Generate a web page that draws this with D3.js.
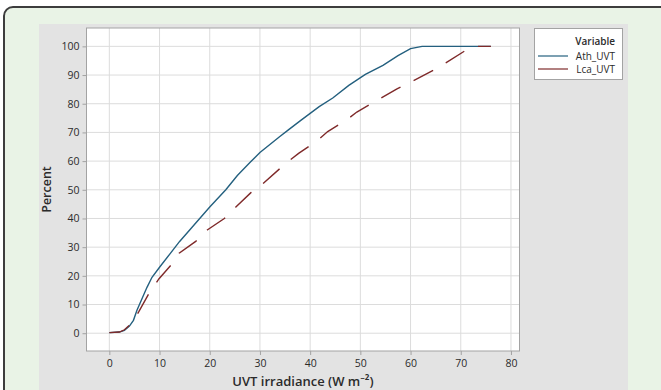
<!DOCTYPE html>
<html>
<head>
<meta charset="utf-8">
<script src="https://cdn.jsdelivr.net/npm/d3@7"></script>
<style>
  html, body { margin: 0; padding: 0; background: #ffffff; }
  svg { display: block; font-family: "Open Sans", "Noto Sans", sans-serif; }
</style>
</head>
<body>
<svg id="chart" width="661" height="390"></svg>
<script>
// Empirical cumulative distributions of UVT irradiance
const athX = [0, 2, 3, 4, 4.8, 5.5, 6.5, 7.5, 8.5, 10, 12, 14, 16, 18, 20, 23.2, 25.5, 28, 30, 33.9, 35.6, 38.2, 41.8, 44.5, 47.7, 51, 54.5, 57.5, 60, 62.3, 76];
const athY = [0.2, 0.4, 1.0, 2.5, 4.5, 8, 12, 16, 19.5, 23, 27.5, 32, 36, 40, 44, 50, 55, 59.5, 63, 68.5, 70.8, 74.3, 79, 82, 86.4, 90.2, 93.4, 96.8, 99.2, 100, 100];

const lcaX = [0, 2, 3, 4, 5, 5.9, 8.1, 9.9, 12.6, 13.9, 17.2, 19.5, 22.9, 25.2, 28.2, 30.5, 35.2, 37.7, 41.2, 43.5, 47.2, 49.3, 57.3, 60.4, 64.4, 67.1, 70.7, 72, 73.2, 76];
const lcaY = [0.2, 0.4, 1.2, 2.8, 5, 7.6, 14.5, 19, 24.4, 27.9, 32, 36, 40, 44, 49, 52, 59.3, 62.7, 66.8, 70.3, 74.3, 77.1, 85.2, 87.9, 91.5, 94.3, 98.3, 99.4, 100, 100];

const seriesNames = ["Ath_UVT", "Lca_UVT"];
const seriesColors = ["#24607f", "#7f2a2a"];
const xTicks = [0, 10, 20, 30, 40, 50, 60, 70, 80];
const yTicks = [0, 10, 20, 30, 40, 50, 60, 70, 80, 90, 100];

const svg = d3.select("#chart");

// outer card
svg.append("rect")
  .attr("x", 4).attr("y", 7).attr("width", 700).attr("height", 430)
  .attr("rx", 9).attr("ry", 9)
  .attr("fill", "#e9f3e6").attr("stroke", "#3d3d3d").attr("stroke-width", 2);

// graph panel
svg.append("rect")
  .attr("x", 39).attr("y", 24).attr("width", 589).attr("height", 380)
  .attr("fill", "#e3e3e3");

const plot = { left: 86.5, right: 519.5, top: 28, bottom: 351 };

const x = d3.scaleLinear().domain([-4.55, 81.7]).range([plot.left, plot.right]);
const y = d3.scaleLinear().domain([-6.2, 106.4]).range([plot.bottom, plot.top]);

svg.append("rect")
  .attr("x", plot.left).attr("y", plot.top)
  .attr("width", plot.right - plot.left).attr("height", plot.bottom - plot.top)
  .attr("fill", "#ffffff");

// gridlines
svg.append("g").selectAll("line").data(xTicks).join("line")
  .attr("x1", d => x(d)).attr("x2", d => x(d))
  .attr("y1", plot.top).attr("y2", plot.bottom)
  .attr("stroke", "#dcdcdc").attr("stroke-width", 1);
svg.append("g").selectAll("line").data(yTicks).join("line")
  .attr("x1", plot.left).attr("x2", plot.right)
  .attr("y1", d => y(d)).attr("y2", d => y(d))
  .attr("stroke", "#dcdcdc").attr("stroke-width", 1);

// plot frame
svg.append("rect")
  .attr("x", plot.left).attr("y", plot.top)
  .attr("width", plot.right - plot.left).attr("height", plot.bottom - plot.top)
  .attr("fill", "none").attr("stroke", "#a3a3a3").attr("stroke-width", 1);

// axes
const xAxis = d3.axisBottom(x).tickValues(xTicks).tickSize(4).tickPadding(5);
const yAxis = d3.axisLeft(y).tickValues(yTicks).tickSize(4).tickPadding(3);

const gx = svg.append("g").attr("transform", `translate(0,${plot.bottom})`).call(xAxis);
const gy = svg.append("g").attr("transform", `translate(${plot.left},0)`).call(yAxis);
[gx, gy].forEach(g => {
  g.select(".domain").remove();
  g.selectAll(".tick line").attr("stroke", "#a3a3a3");
  g.selectAll(".tick text").attr("fill", "#2b2b2b")
    .style("font-size", "10.5px")
    .style("font-family", "'Open Sans', 'Noto Sans', sans-serif");
});

// axis titles
svg.append("text")
  .attr("x", (plot.left + plot.right) / 2).attr("y", 386)
  .attr("text-anchor", "middle")
  .attr("fill", "#2b2b2b").style("font-size", "13px").style("font-weight", "600")
  .text("UVT irradiance (W m⁻²)");

svg.append("text")
  .attr("transform", `translate(51,${(plot.top + plot.bottom) / 2}) rotate(-90)`)
  .attr("text-anchor", "middle")
  .attr("fill", "#2b2b2b").style("font-size", "12.5px").style("font-weight", "600")
  .text("Percent");

// lines
const line = d3.line().x(d => x(d[0])).y(d => y(d[1]));
const athData = d3.zip(athX, athY);
const lcaData = d3.zip(lcaX, lcaY);

svg.append("clipPath").attr("id", "plotClip")
  .append("rect").attr("x", plot.left).attr("y", plot.top)
  .attr("width", plot.right - plot.left).attr("height", plot.bottom - plot.top);

const lines = svg.append("g").attr("clip-path", "url(#plotClip)");

lines.append("path").datum(athData)
  .attr("d", line).attr("fill", "none")
  .attr("stroke", seriesColors[0]).attr("stroke-width", 1.4);

const lcaPath = lines.append("path").datum(lcaData)
  .attr("d", line).attr("fill", "none")
  .attr("stroke", seriesColors[1]).attr("stroke-width", 1.4);

// long-dash pattern: keep the first dash at the start of the curve and
// let one dash finish just before the curve levels off at 100 %
const dashLen = 22;
const probe = document.createElementNS("http://www.w3.org/2000/svg", "path");
const lastDashIdx = lcaX.indexOf(70.7);
probe.setAttribute("d", line(lcaData.slice(0, lastDashIdx + 1)));
const endLen = probe.getTotalLength();
const nPeriods = Math.round((endLen - dashLen) / 37);
const period = (endLen - dashLen) / nPeriods;
lcaPath.attr("stroke-dasharray", `${dashLen},${period - dashLen}`);

// legend
const lg = svg.append("g");
lg.append("rect")
  .attr("x", 534.5).attr("y", 28.5).attr("width", 88).attr("height", 51)
  .attr("fill", "#ffffff").attr("stroke", "#a3a3a3").attr("stroke-width", 1);
lg.append("text")
  .attr("x", 615).attr("y", 45).attr("text-anchor", "end")
  .attr("fill", "#2b2b2b").style("font-size", "10px").style("font-weight", "600")
  .text("Variable");
seriesNames.forEach((name, i) => {
  const yy = 56 + i * 13;
  lg.append("line")
    .attr("x1", 538).attr("x2", 568).attr("y1", yy).attr("y2", yy)
    .attr("stroke", seriesColors[i]).attr("stroke-width", 1.2);
  lg.append("text")
    .attr("x", 615).attr("y", yy + 3.5).attr("text-anchor", "end")
    .attr("fill", "#2b2b2b").style("font-size", "10px")
    .text(name);
});
</script>
</body>
</html>
